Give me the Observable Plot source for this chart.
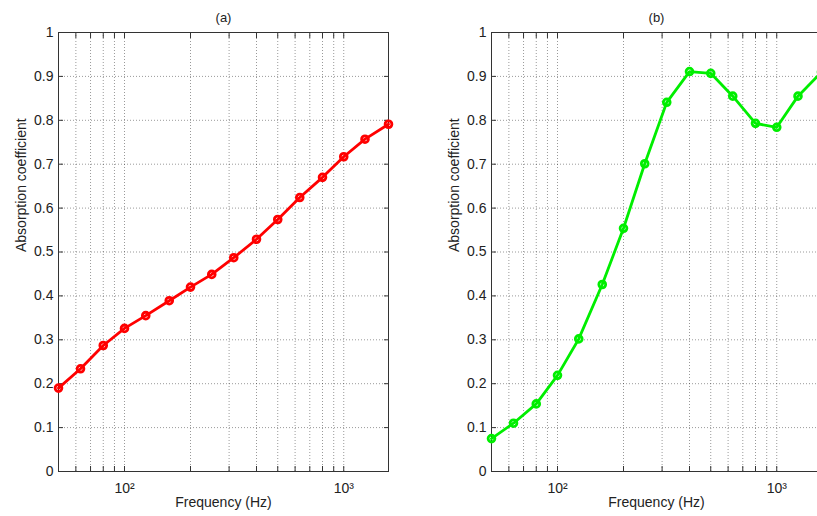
<!DOCTYPE html>
<html>
<head>
<meta charset="utf-8">
<script src="https://cdn.jsdelivr.net/npm/d3@7"></script>
<script src="https://cdn.jsdelivr.net/npm/@observablehq/plot@0.6"></script>
<style>
  html, body { margin: 0; padding: 0; background: #fff; }
  #wrap { position: relative; width: 817px; height: 516px; overflow: hidden; background: #fff; }
  #wrap svg { position: absolute; top: 0; }
</style>
</head>
<body>
<div id="wrap"></div>
<script>
// ---- data ----
const frequencies = [50, 63, 80, 100, 125, 160, 200, 250, 315, 400, 500, 630, 800, 1000, 1250, 1600];
const alphaA = [0.190, 0.234, 0.287, 0.326, 0.355, 0.389, 0.420, 0.449, 0.487, 0.529, 0.574, 0.624, 0.670, 0.717, 0.757, 0.791];
const alphaB = [0.075, 0.110, 0.154, 0.219, 0.302, 0.426, 0.554, 0.701, 0.841, 0.911, 0.907, 0.855, 0.793, 0.784, 0.855, 0.910];
const yTicks = [0, 0.1, 0.2, 0.3, 0.4, 0.5, 0.6, 0.7, 0.8, 0.9, 1];
const xGridTicks = [50, 60, 70, 80, 90, 100, 200, 300, 400, 500, 600, 700, 800, 900, 1000];
const xLabelTicks = [100, 1000];
const xLabelText = {100: "10²", 1000: "10³"};
const panelTitles = ["(a)", "(b)"];
const panelColors = ["#ff0000", "#00ee00"];
const panelLefts = [0, 433];

const FONT = "'Liberation Sans', Arial, Helvetica, sans-serif";
const wrap = document.getElementById("wrap");

[alphaA, alphaB].forEach((vals, i) => {
  const data = frequencies.map((f, j) => ({f, a: vals[j]}));
  const color = panelColors[i];
  const chart = Plot.plot({
    width: 410,
    height: 516,
    marginLeft: 58,
    marginRight: 22,
    marginTop: 32,
    marginBottom: 45,
    style: {fontFamily: FONT, fontSize: "14px", background: "#fff", color: "#222"},
    x: {type: "log", domain: [50, 1600], label: null},
    y: {domain: [0, 1], label: null},
    marks: [
      Plot.gridX(xGridTicks, {stroke: "#000", strokeOpacity: 0.4, strokeDasharray: "1,2"}),
      Plot.gridY(yTicks, {stroke: "#000", strokeOpacity: 0.4, strokeDasharray: "1,2"}),
      // inward ticks
      Plot.axisX(xGridTicks, {anchor: "bottom", tickSize: -5, tickFormat: () => "", label: null, stroke: "#333"}),
      Plot.axisX(xGridTicks, {anchor: "top", tickSize: -5, tickFormat: () => "", label: null, stroke: "#333"}),
      Plot.axisY(yTicks, {anchor: "left", tickSize: -5, tickFormat: () => "", label: null, stroke: "#333"}),
      Plot.axisY(yTicks, {anchor: "right", tickSize: -5, tickFormat: () => "", label: null, stroke: "#333"}),
      // labels
      Plot.axisX(xLabelTicks, {anchor: "bottom", tickSize: 0, tickPadding: 12, tickFormat: d => xLabelText[d], label: null, fontSize: 14}),
      Plot.axisY(yTicks, {anchor: "left", tickSize: 0, tickPadding: 5, tickFormat: d => String(d), label: null, fontSize: 14}),
      Plot.frame({stroke: "#333"}),
      Plot.line(data, {x: "f", y: "a", stroke: color, strokeWidth: 2.8}),
      Plot.dot(data, {x: "f", y: "a", stroke: color, strokeWidth: 2.8, r: 3.4, fill: "none"}),
      Plot.text([panelTitles[i]], {frameAnchor: "top", dy: -20, fontSize: 13}),
      Plot.text(["Frequency (Hz)"], {frameAnchor: "bottom", dy: 35, fontSize: 14}),
      Plot.text(["Absorption coefficient"], {frameAnchor: "left", rotate: -90, dx: -37, fontSize: 14})
    ]
  });
  chart.style.left = panelLefts[i] + "px";
  wrap.appendChild(chart);
});
</script>
</body>
</html>
